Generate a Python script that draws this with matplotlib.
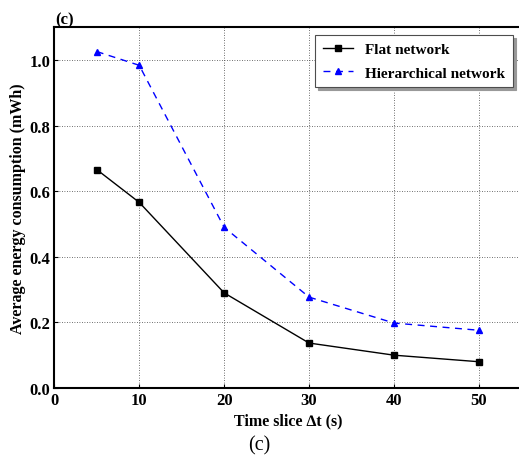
import matplotlib
matplotlib.use("Agg")
import matplotlib.pyplot as plt

plt.rcParams['font.family'] = ['Liberation Serif', 'DejaVu Serif']

time_slice = [5, 10, 20, 30, 40, 50]
flat_energy = [0.666, 0.566, 0.290, 0.137, 0.100, 0.080]
hier_energy = [1.026, 0.984, 0.490, 0.277, 0.198, 0.176]

fig = plt.figure(figsize=(5.19, 4.56), dpi=100)
ax = fig.add_axes([0.1046, 0.147, 0.9, 0.791])

ax.plot(time_slice, flat_energy, color='black', linestyle='-', linewidth=1,
        marker='s', markersize=4.5, label='Flat network')
ax.plot(time_slice, hier_energy, color='blue', linestyle='--', linewidth=1,
        dashes=(5, 4), marker='^', markersize=4.5, label='Hierarchical network')

ax.set_xlim(0, 55)
ax.set_ylim(0, 1.1)
ax.set_xticks([0, 10, 20, 30, 40, 50])
ax.set_yticks([0.0, 0.2, 0.4, 0.6, 0.8, 1.0])
ax.set_yticklabels(['0.0', '0.2', '0.4', '0.6', '0.8', '1.0'])
ax.grid(True, color='0.25', linestyle=(0, (1, 2)), linewidth=0.6)
ax.tick_params(direction='in', length=3, labelsize=12, pad=3)
for lab in ax.get_xticklabels() + ax.get_yticklabels():
    lab.set_fontweight('bold')
for s in ax.spines.values():
    s.set_linewidth(1.5)

ax.set_xlabel('Time slice \u2206t (s)', fontsize=11.5, fontweight='bold', labelpad=3)
ax.set_ylabel('Average energy consumption (mWh)', fontsize=11.5, fontweight='bold', labelpad=2)

leg = ax.legend(loc='upper right', bbox_to_anchor=(0.982, 0.979), fancybox=False,
                shadow={'color': '0.6', 'alpha': 1}, prop={'weight': 'bold', 'size': 11},
                handlelength=2.0, borderpad=0.5, labelspacing=0.65, borderaxespad=0)
leg.get_frame().set_edgecolor('0.3')
leg.get_frame().set_linewidth(0.8)

fig.text(0.106, 0.938, '(c)', fontsize=12, fontweight='bold', ha='left', va='bottom')
fig.text(0.5, 0.022, '(c)', fontsize=14.5, ha='center', va='center')

fig.savefig('out.png', dpi=100)
